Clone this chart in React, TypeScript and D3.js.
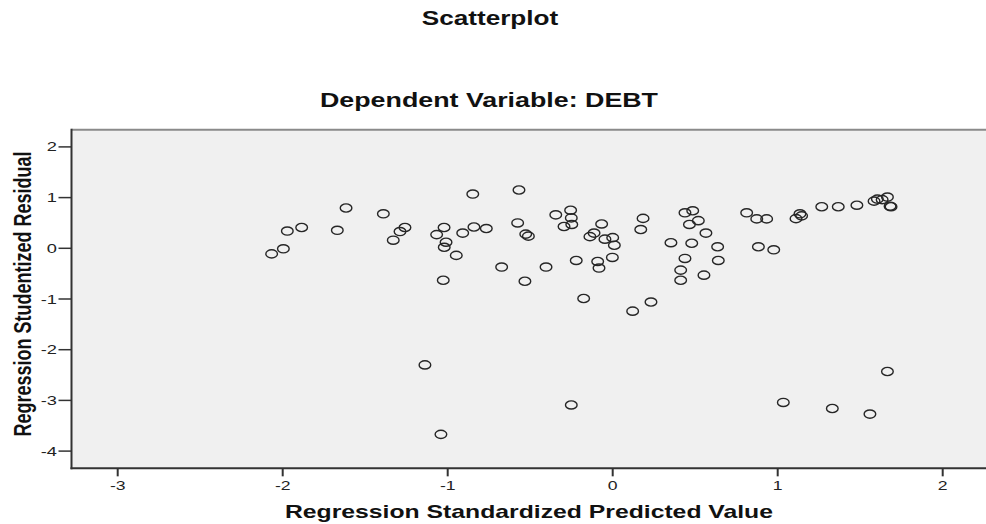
import React from "react";
import * as d3 from "d3";

const predicted: number[] = [
  -2.067, -1.996, -1.972, -1.885, -1.616, -1.669, -1.39, -1.259, -1.289, -1.33,
  -1.022, -1.067, -1.01, -1.021, -0.948, -1.027, -0.848, -0.909, -0.841, -0.766,
  -0.568, -0.576, -0.527, -0.511, -0.673, -0.532, -0.345, -0.255, -0.251, -0.248,
  -0.295, -0.404, -0.221, -0.067, -0.113, -0.138, -0.047, 0.0, 0.01, -0.002,
  -0.091, -0.083, 0.184, 0.17, -0.176, 0.232, 0.121, 0.438, 0.485, 0.465,
  0.519, 0.565, 0.353, 0.479, 0.636, 0.438, 0.64, 0.412, 0.412, 0.553,
  0.812, 0.873, 0.933, 0.883, 0.976, 1.111, 1.135, 1.145, 1.267, 1.367,
  1.48, 1.584, 1.604, 1.633, 1.665, 1.681, 1.687, -1.138, -1.041, 1.665,
  -0.251, 1.034, 1.331, 1.559,
];
const residual: number[] = [
  -0.11, -0.01, 0.34, 0.41, 0.795, 0.355, 0.68, 0.41, 0.33, 0.16,
  0.41, 0.27, 0.12, 0.02, -0.14, -0.63, 1.07, 0.3, 0.42, 0.39,
  1.15, 0.5, 0.28, 0.24, -0.37, -0.65, 0.66, 0.75, 0.6, 0.47,
  0.43, -0.37, -0.24, 0.48, 0.3, 0.23, 0.18, 0.21, 0.06, -0.18,
  -0.26, -0.39, 0.59, 0.37, -0.99, -1.06, -1.24, 0.7, 0.74, 0.47,
  0.545, 0.3, 0.11, 0.1, 0.03, -0.2, -0.24, -0.43, -0.63, -0.53,
  0.7, 0.58, 0.58, 0.03, -0.03, 0.585, 0.68, 0.64, 0.82, 0.82,
  0.85, 0.93, 0.97, 0.96, 1.01, 0.83, 0.82, -2.3, -3.67, -2.43,
  -3.09, -3.04, -3.16, -3.27,
];
const xTicks: number[] = [-3, -2, -1, 0, 1, 2];
const yTicks: number[] = [2, 1, 0, -1, -2, -3, -4];

const mainTitle = "Scatterplot";
const subTitle = "Dependent Variable: DEBT";
const xTitle = "Regression Standardized Predicted Value";
const yTitle = "Regression Studentized Residual";

const FONT = "'Liberation Sans', Arial, Helvetica, sans-serif";
const SX = 1.36;

export default function App() {
  const W = 986;
  const H = 524;
  const x = d3.scaleLinear().domain([-3, 2]).range([117.7, 942.7]);
  const y = d3.scaleLinear().domain([2, -4]).range([146.9, 451.1]);
  const left = x(-3.28);
  const right = W + 4;
  const top = y(2.34);
  const bottom = y(-4.34);
  const pts = predicted.map((p, i) => ({ p, r: residual[i] }));

  return (
    <svg
      width={W}
      height={H}
      style={{ position: "absolute", left: 0, top: 0, background: "#fff" }}
      fontFamily={FONT}
    >
      <rect x={0} y={0} width={W} height={H} fill="#ffffff" />
      <text
        x={490}
        y={25}
        textAnchor="middle"
        fontSize={20}
        fontWeight="bold"
        fill="#111"
        textLength={136.6}
        lengthAdjust="spacingAndGlyphs"
      >
        {mainTitle}
      </text>
      <text
        x={489}
        y={106.5}
        textAnchor="middle"
        fontSize={20}
        fontWeight="bold"
        fill="#111"
        textLength={338}
        lengthAdjust="spacingAndGlyphs"
      >
        {subTitle}
      </text>

      <rect x={left} y={top} width={right - left} height={bottom - top} fill="#f0f0f0" />
      <line x1={left} x2={right} y1={top} y2={top} stroke="#8a8a8a" strokeWidth={2} />

      {pts.map((d, i) => (
        <ellipse
          key={i}
          cx={x(d.p)}
          cy={y(d.r)}
          rx={5.8}
          ry={4.1}
          fill="none"
          stroke="#262626"
          strokeWidth={1.4}
        />
      ))}

      <line x1={left} x2={left} y1={top - 1} y2={bottom + 1} stroke="#333" strokeWidth={2} />
      <line x1={left - 1} x2={right} y1={bottom} y2={bottom} stroke="#333" strokeWidth={2} />

      {yTicks.map((t) => (
        <g key={"y" + t}>
          <line x1={58.5} x2={left} y1={y(t)} y2={y(t)} stroke="#333" strokeWidth={1.5} />
          <text
            transform={`translate(57,${y(t) + 4.5}) scale(${SX + 0.1},1)`}
            textAnchor="end"
            fontSize={12.5}
            fill="#222"
          >
            {t}
          </text>
        </g>
      ))}

      {xTicks.map((t) => (
        <g key={"x" + t}>
          <line x1={x(t)} x2={x(t)} y1={bottom} y2={bottom + 8} stroke="#333" strokeWidth={2} />
          <text
            transform={`translate(${x(t)},489.5) scale(${SX + 0.05},1)`}
            textAnchor="middle"
            fontSize={12.5}
            fill="#222"
          >
            {t}
          </text>
        </g>
      ))}

      <text
        x={529}
        y={518.3}
        textAnchor="middle"
        fontSize={18.5}
        fontWeight="bold"
        fill="#111"
        textLength={488}
        lengthAdjust="spacingAndGlyphs"
      >
        {xTitle}
      </text>
      <text
        transform={`translate(30.5,294) scale(${SX - 0.06},1) rotate(-90)`}
        textAnchor="middle"
        fontSize={18}
        fontWeight="bold"
        fill="#111"
        textLength={285}
        lengthAdjust="spacingAndGlyphs"
      >
        {yTitle}
      </text>
    </svg>
  );
}
